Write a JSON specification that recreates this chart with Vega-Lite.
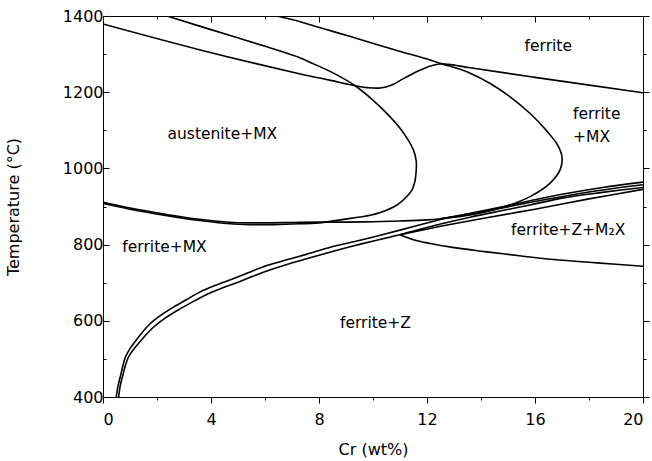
{
  "$schema": "https://vega.github.io/schema/vega-lite/v6.json",
  "width": 540,
  "height": 381,
  "autosize": "none",
  "padding": {"left": 103, "top": 16, "right": 9, "bottom": 64},
  "background": "white",
  "config": {"view": {"stroke": null}, "font": "DejaVu Sans"},
  "datasets": {
    "lines": [
      {"s":"delta","i":0,"x":0,"y":1379},{"s":"delta","i":1,"x":3.6,"y":1311},{"s":"delta","i":2,"x":7.31,"y":1248},{"s":"delta","i":3,"x":8.43,"y":1231},{"s":"delta","i":4,"x":9.34,"y":1217},{"s":"delta","i":5,"x":9.8,"y":1212},{"s":"delta","i":6,"x":10.27,"y":1211},{"s":"delta","i":7,"x":10.7,"y":1219},{"s":"delta","i":8,"x":11.01,"y":1231},{"s":"delta","i":9,"x":11.4,"y":1246},{"s":"delta","i":10,"x":11.75,"y":1258},{"s":"delta","i":11,"x":12.1,"y":1268},{"s":"delta","i":12,"x":12.45,"y":1274},{"s":"delta","i":13,"x":12.8,"y":1273},{"s":"delta","i":14,"x":13.6,"y":1264},{"s":"delta","i":15,"x":16,"y":1239},{"s":"delta","i":16,"x":20,"y":1198.5},

      {"s":"aus","i":0,"x":2.37,"y":1400},{"s":"aus","i":1,"x":4.83,"y":1346},{"s":"aus","i":2,"x":6.07,"y":1319},{"s":"aus","i":3,"x":7.31,"y":1290},{"s":"aus","i":4,"x":7.68,"y":1278},{"s":"aus","i":5,"x":8.43,"y":1254},{"s":"aus","i":6,"x":9.34,"y":1217},{"s":"aus","i":7,"x":9.9,"y":1185},{"s":"aus","i":8,"x":10.39,"y":1153},{"s":"aus","i":9,"x":11.01,"y":1105},{"s":"aus","i":10,"x":11.3,"y":1075},{"s":"aus","i":11,"x":11.5,"y":1048},{"s":"aus","i":12,"x":11.6,"y":1020},{"s":"aus","i":13,"x":11.6,"y":995},{"s":"aus","i":14,"x":11.55,"y":965},{"s":"aus","i":15,"x":11.44,"y":943},{"s":"aus","i":16,"x":11.12,"y":917},{"s":"aus","i":17,"x":10.89,"y":904},{"s":"aus","i":18,"x":10.27,"y":884},{"s":"aus","i":19,"x":9.9,"y":877},{"s":"aus","i":20,"x":8.79,"y":865},{"s":"aus","i":21,"x":8.0,"y":857},{"s":"aus","i":22,"x":7,"y":854},{"s":"aus","i":23,"x":6,"y":852},{"s":"aus","i":24,"x":4.84,"y":854},{"s":"aus","i":25,"x":3.5,"y":864},{"s":"aus","i":26,"x":2.37,"y":876},{"s":"aus","i":27,"x":1,"y":893},{"s":"aus","i":28,"x":0,"y":908},

      {"s":"fer","i":0,"x":6.44,"y":1400},{"s":"fer","i":1,"x":7.31,"y":1385},{"s":"fer","i":2,"x":8.05,"y":1369},{"s":"fer","i":3,"x":9.17,"y":1346},{"s":"fer","i":4,"x":10.2,"y":1324},{"s":"fer","i":5,"x":11.01,"y":1307},{"s":"fer","i":6,"x":11.9,"y":1289},{"s":"fer","i":7,"x":12.61,"y":1273},{"s":"fer","i":8,"x":13.1,"y":1263},{"s":"fer","i":9,"x":13.6,"y":1250},{"s":"fer","i":10,"x":14.34,"y":1223},{"s":"fer","i":11,"x":15.08,"y":1188},{"s":"fer","i":12,"x":15.82,"y":1144},{"s":"fer","i":13,"x":16.44,"y":1098},{"s":"fer","i":14,"x":16.85,"y":1060},{"s":"fer","i":15,"x":17.0,"y":1030},{"s":"fer","i":16,"x":16.94,"y":998},{"s":"fer","i":17,"x":16.57,"y":962},{"s":"fer","i":18,"x":15.82,"y":926},{"s":"fer","i":19,"x":14.84,"y":899},{"s":"fer","i":20,"x":13.6,"y":878},{"s":"fer","i":21,"x":12.49,"y":868},{"s":"fer","i":22,"x":12.0,"y":865},{"s":"fer","i":23,"x":11,"y":862},{"s":"fer","i":24,"x":10,"y":860},{"s":"fer","i":25,"x":9,"y":859},{"s":"fer","i":26,"x":8,"y":859},{"s":"fer","i":27,"x":7,"y":858},{"s":"fer","i":28,"x":6,"y":857},{"s":"fer","i":29,"x":4.84,"y":858},{"s":"fer","i":30,"x":3.5,"y":867},{"s":"fer","i":31,"x":2.37,"y":879},{"s":"fer","i":32,"x":1,"y":896},{"s":"fer","i":33,"x":0,"y":911},

      {"s":"z1","i":0,"x":0.49,"y":400},{"s":"z1","i":1,"x":0.56,"y":430},{"s":"z1","i":2,"x":0.64,"y":453},{"s":"z1","i":3,"x":0.73,"y":480},{"s":"z1","i":4,"x":0.83,"y":505},{"s":"z1","i":5,"x":1.0,"y":527},{"s":"z1","i":6,"x":1.13,"y":540},{"s":"z1","i":7,"x":1.4,"y":565},{"s":"z1","i":8,"x":1.75,"y":593},{"s":"z1","i":9,"x":2.15,"y":615},{"s":"z1","i":10,"x":2.61,"y":636},{"s":"z1","i":11,"x":3.1,"y":656},{"s":"z1","i":12,"x":3.6,"y":676},{"s":"z1","i":13,"x":4.2,"y":694},{"s":"z1","i":14,"x":4.84,"y":711},{"s":"z1","i":15,"x":5.4,"y":727},{"s":"z1","i":16,"x":6.07,"y":745},{"s":"z1","i":17,"x":6.8,"y":760},{"s":"z1","i":18,"x":7.56,"y":775},{"s":"z1","i":19,"x":8.42,"y":793},{"s":"z1","i":20,"x":9.2,"y":806},{"s":"z1","i":21,"x":10.02,"y":820},{"s":"z1","i":22,"x":11.0,"y":838},{"s":"z1","i":23,"x":11.75,"y":852},{"s":"z1","i":24,"x":12.5,"y":866},{"s":"z1","i":25,"x":13.6,"y":882},{"s":"z1","i":26,"x":14.84,"y":900},{"s":"z1","i":27,"x":15.82,"y":915},{"s":"z1","i":28,"x":17,"y":932},{"s":"z1","i":29,"x":18.5,"y":950},{"s":"z1","i":30,"x":20,"y":964},

      {"s":"z2","i":0,"x":0.58,"y":400},{"s":"z2","i":1,"x":0.64,"y":430},{"s":"z2","i":2,"x":0.72,"y":453},{"s":"z2","i":3,"x":0.82,"y":480},{"s":"z2","i":4,"x":0.93,"y":503},{"s":"z2","i":5,"x":1.1,"y":522},{"s":"z2","i":6,"x":1.25,"y":535},{"s":"z2","i":7,"x":1.55,"y":560},{"s":"z2","i":8,"x":1.9,"y":585},{"s":"z2","i":9,"x":2.3,"y":607},{"s":"z2","i":10,"x":2.75,"y":627},{"s":"z2","i":11,"x":3.25,"y":647},{"s":"z2","i":12,"x":3.75,"y":666},{"s":"z2","i":13,"x":4.35,"y":684},{"s":"z2","i":14,"x":5.0,"y":701},{"s":"z2","i":15,"x":5.55,"y":717},{"s":"z2","i":16,"x":6.2,"y":734},{"s":"z2","i":17,"x":6.9,"y":750},{"s":"z2","i":18,"x":7.6,"y":764},{"s":"z2","i":19,"x":8.5,"y":782},{"s":"z2","i":20,"x":9.3,"y":797},{"s":"z2","i":21,"x":10.1,"y":811},{"s":"z2","i":22,"x":11.0,"y":826},{"s":"z2","i":23,"x":11.75,"y":840},{"s":"z2","i":24,"x":12.5,"y":854},{"s":"z2","i":25,"x":13.6,"y":872},{"s":"z2","i":26,"x":14.84,"y":890},{"s":"z2","i":27,"x":15.82,"y":904},{"s":"z2","i":28,"x":17,"y":922},{"s":"z2","i":29,"x":18.5,"y":937},{"s":"z2","i":30,"x":20,"y":950},

      {"s":"b3","i":0,"x":11.0,"y":826},{"s":"b3","i":1,"x":12.5,"y":848},{"s":"b3","i":2,"x":14,"y":868},{"s":"b3","i":3,"x":16,"y":893},{"s":"b3","i":4,"x":18,"y":920},{"s":"b3","i":5,"x":20,"y":945},

      {"s":"b4","i":0,"x":12.5,"y":868},{"s":"b4","i":1,"x":13.6,"y":880},{"s":"b4","i":2,"x":14.84,"y":897},{"s":"b4","i":3,"x":16,"y":913},{"s":"b4","i":4,"x":18,"y":938},{"s":"b4","i":5,"x":20,"y":957},

      {"s":"m2x","i":0,"x":11.0,"y":826},{"s":"m2x","i":1,"x":11.5,"y":813},{"s":"m2x","i":2,"x":12.12,"y":803},{"s":"m2x","i":3,"x":13,"y":792},{"s":"m2x","i":4,"x":14.22,"y":781},{"s":"m2x","i":5,"x":15.5,"y":770},{"s":"m2x","i":6,"x":16.69,"y":761},{"s":"m2x","i":7,"x":18.3,"y":752},{"s":"m2x","i":8,"x":20,"y":743}
    ],
    "labelsC": [
      {"t":"ferrite","x":16.49,"y":1322},
      {"t":"austenite+MX","x":4.42,"y":1090},
      {"t":"ferrite+MX","x":2.28,"y":795},
      {"t":"ferrite+Z+M₂X","x":17.23,"y":838},
      {"t":"ferrite+Z","x":10.09,"y":595}
    ],
    "labelsL": [
      {"t":"ferrite","x":17.41,"y":1143},
      {"t":"+MX","x":17.41,"y":1083}
    ]
  },
  "layer": [
    {
      "data": {"name": "lines"},
      "mark": {"type": "line", "stroke": "black", "strokeWidth": 1.6, "clip": true, "interpolate": "catmull-rom"},
      "encoding": {
        "x": {"field": "x", "type": "quantitative", "scale": {"domain": [0, 20], "nice": false, "zero": false},
          "axis": {"orient": "bottom", "values": [0,2,4,6,8,10,12,14,16,18,20],
            "labelExpr": "datum.value % 4 === 0 ? datum.label : ''",
            "tickSize": {"condition": {"test": "datum.value % 4 === 0", "value": 6}, "value": 3},
            "title": "Cr (wt%)", "grid": false, "domainColor": "black", "tickColor": "black",
            "labelFont": "DejaVu Sans", "labelFontSize": 16, "labelColor": "black", "labelPadding": 8,
            "titleFont": "DejaVu Sans", "titleFontSize": 16, "titleFontWeight": "normal", "titleColor": "black", "titlePadding": 14}},
        "y": {"field": "y", "type": "quantitative", "scale": {"domain": [400, 1400], "nice": false, "zero": false},
          "axis": {"orient": "left", "values": [400,500,600,700,800,900,1000,1100,1200,1300,1400], "format": "d",
            "labelExpr": "datum.value % 200 === 0 ? datum.label : ''",
            "tickSize": {"condition": {"test": "datum.value % 200 === 0", "value": -6}, "value": -3},
            "title": "Temperature (°C)", "grid": false, "domainColor": "black", "tickColor": "black",
            "labelFont": "DejaVu Sans", "labelFontSize": 16, "labelColor": "black", "labelPadding": 6,
            "titleFont": "DejaVu Sans", "titleFontSize": 16, "titleFontWeight": "normal", "titleColor": "black", "titlePadding": 41}},
        "detail": {"field": "s"},
        "order": {"field": "i", "type": "quantitative"}
      }
    },
    {
      "data": {"name": "labelsC"},
      "mark": {"type": "text", "font": "DejaVu Sans", "fontSize": 15.5, "color": "black", "align": "center", "baseline": "middle"},
      "encoding": {
        "x": {"field": "x", "type": "quantitative",
          "axis": {"orient": "top", "values": [0,2,4,6,8,10,12,14,16,18,20], "labels": false, "title": null, "grid": false,
            "tickSize": {"condition": {"test": "datum.value % 4 === 0", "value": -6}, "value": -3},
            "domainColor": "black", "tickColor": "black"}},
        "y": {"field": "y", "type": "quantitative",
          "axis": {"orient": "right", "values": [400,500,600,700,800,900,1000,1100,1200,1300,1400], "labels": false, "title": null, "grid": false,
            "tickSize": {"condition": {"test": "datum.value % 200 === 0", "value": 6}, "value": 3},
            "domainColor": "black", "tickColor": "black"}},
        "text": {"field": "t"}
      }
    },
    {
      "data": {"name": "labelsL"},
      "mark": {"type": "text", "font": "DejaVu Sans", "fontSize": 15.5, "color": "black", "align": "left", "baseline": "middle"},
      "encoding": {
        "x": {"field": "x", "type": "quantitative", "axis": null},
        "y": {"field": "y", "type": "quantitative", "axis": null},
        "text": {"field": "t"}
      }
    }
  ],
  "resolve": {"axis": {"x": "independent", "y": "independent"}}
}
